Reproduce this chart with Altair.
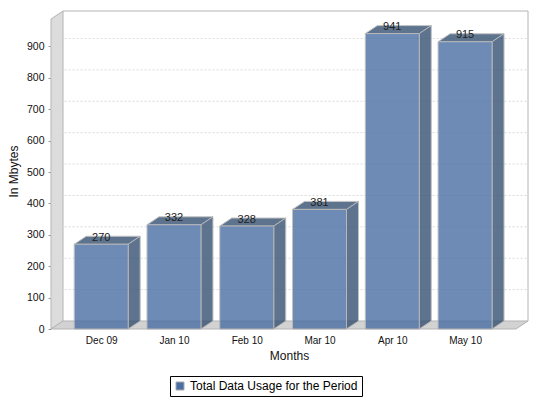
import json
import altair as alt
import pandas as pd

months = ["Dec 09", "Jan 10", "Feb 10", "Mar 10", "Apr 10", "May 10"]
values = [270, 332, 328, 381, 941, 915]
grid_values = [100, 200, 300, 400, 500, 600, 700, 800, 900]
y_ticks = [0, 100, 200, 300, 400, 500, 600, 700, 800, 900]
series_name = "Total Data Usage for the Period"

# 3-D projection settings, in data units
HALF = 0.371   # half bar width
DX = 0.165     # depth along x
DY = 25.5      # depth along y
X0, X1 = -0.69, 5.70   # front floor extent
YTOP = 987.5
XDOM = [X0, X1 + DX]
YDOM = [0, YTOP + DY]

SIDE = "#365273"
EDGE = "#b4b4b4"
FONT = "Liberation Sans"

xs = alt.Scale(domain=XDOM, nice=False, zero=False)
ys = alt.Scale(domain=YDOM, nice=False, zero=False)

label_expr = f"{json.dumps(months)}[datum.value]"
X_AXIS = alt.Axis(
    values=list(range(len(months))), labelExpr=label_expr, title="Months",
    domain=False, ticks=False, grid=False, labelFont=FONT, labelFontSize=10,
    labelColor="#111", labelPadding=6, labelFlush=False, labelOverlap=False,
    titleFont=FONT, titleFontSize=12, titleFontWeight="normal", titleColor="#111",
    titleX=238, titleY=21, titleBaseline="top", labelAngle=0)
Y_AXIS = alt.Axis(
    values=y_ticks, title="In Mbytes", domain=False, ticks=True, tickSize=3,
    tickColor="#999", grid=False, labelFont=FONT, labelFontSize=10.5,
    labelColor="#111", labelPadding=4, labelOverlap=False, titleFont=FONT,
    titleFontSize=12, titleFontWeight="normal", titleColor="#111",
    titleX=-31, titleY=160)


def X(f="x"):
    return alt.X(f"{f}:Q", scale=xs, axis=X_AXIS)


def Y(f="y"):
    return alt.Y(f"{f}:Q", scale=ys, stack=None, axis=Y_AXIS)


def area(df, **mk):
    return alt.Chart(df).mark_area(interpolate="linear", **mk).encode(
        x=X(), y=Y(), y2=alt.Y2("y2:Q"), detail="k:N")


def line(df, **mk):
    return alt.Chart(df).mark_line(interpolate="linear", **mk).encode(
        x=X(), y=Y(), detail="k:N", order="o:Q")


def rows(k, pts):
    return [dict(k=k, o=i, x=p[0], y=p[1], y2=p[2]) for i, p in enumerate(pts)]


# walls
wall = area(pd.DataFrame(rows("w", [(X0, 0, YTOP), (X0 + DX, DY, YTOP + DY)])),
            color="#dcdcdc", stroke=EDGE, strokeWidth=1)
floor = area(pd.DataFrame(rows("f", [(X0, 0, 0), (X0 + DX, 0, DY), (X1, 0, DY), (X1 + DX, DY, DY)])),
             color="#d2d2d2", stroke=EDGE, strokeWidth=1)
frame = line(pd.DataFrame(rows("b", [(X0 + DX, YTOP + DY, 0), (X1 + DX, YTOP + DY, 0),
                                     (X1 + DX, DY, 0)])),
             color=EDGE, strokeWidth=1)

# gridlines
g = []
for v in grid_values:
    g += rows(f"g{v}", [(X0, v, 0), (X0 + DX, v + DY, 0), (X1 + DX, v + DY, 0)])
grid = line(pd.DataFrame(g), color="#dadada", strokeWidth=1, strokeDash=[2, 2])

# bars
tops, sides, fronts, texts = [], [], [], []
for i, (m, v) in enumerate(zip(months, values)):
    a, b = i - HALF, i + HALF
    tops += rows(m, [(a, v, v), (a + DX, v, v + DY), (b, v, v + DY), (b + DX, v + DY, v + DY)])
    sides += rows(m, [(b, 0, v), (b + DX, DY, v + DY)])
    fronts.append(dict(month=m, xa=a, xb=b, y=0, y2=v, series=series_name))
    texts.append(dict(x=i, y=v, t=str(v)))

top_l = area(pd.DataFrame(tops), color=SIDE, opacity=0.8, stroke=EDGE, strokeWidth=1)
side_l = area(pd.DataFrame(sides), color=SIDE, opacity=0.8, stroke=EDGE, strokeWidth=1)
front_l = alt.Chart(pd.DataFrame(fronts)).mark_rect(
    opacity=0.8, stroke=EDGE, strokeWidth=1, strokeOpacity=1).encode(
    x=X("xa"), x2=alt.X2("xb:Q"), y=Y("y"), y2=alt.Y2("y2:Q"),
    color=alt.Color("series:N",
                    scale=alt.Scale(domain=[series_name], range=["#4a6fa5"]),
                    legend=alt.Legend(
                        orient="none", legendX=119, legendY=365, title=None,
                        strokeColor="#000", fillColor="#fff", padding=4,
                        symbolType="square", symbolSize=64, symbolOpacity=1,
                        symbolStrokeColor="#aaa", symbolStrokeWidth=1,
                        labelFont=FONT, labelFontSize=12, labelColor="#000",
                        labelLimit=300)),
)
text_l = alt.Chart(pd.DataFrame(texts)).mark_text(
    font=FONT, fontSize=11, color="#222", dy=-6.5, baseline="middle", align="center").encode(
    x=X(), y=Y(), text="t:N")

chart = alt.layer(wall, floor, frame, grid, top_l, side_l, front_l, text_l).properties(
    width=477, height=318,
    padding={"left": 43, "top": 3, "right": 3, "bottom": 72},
    autosize=alt.AutoSizeParams(type="none"),
    background="white",
).configure_view(stroke=None)

chart.save("out.html", embed_options={"renderer": "svg", "actions": False})
